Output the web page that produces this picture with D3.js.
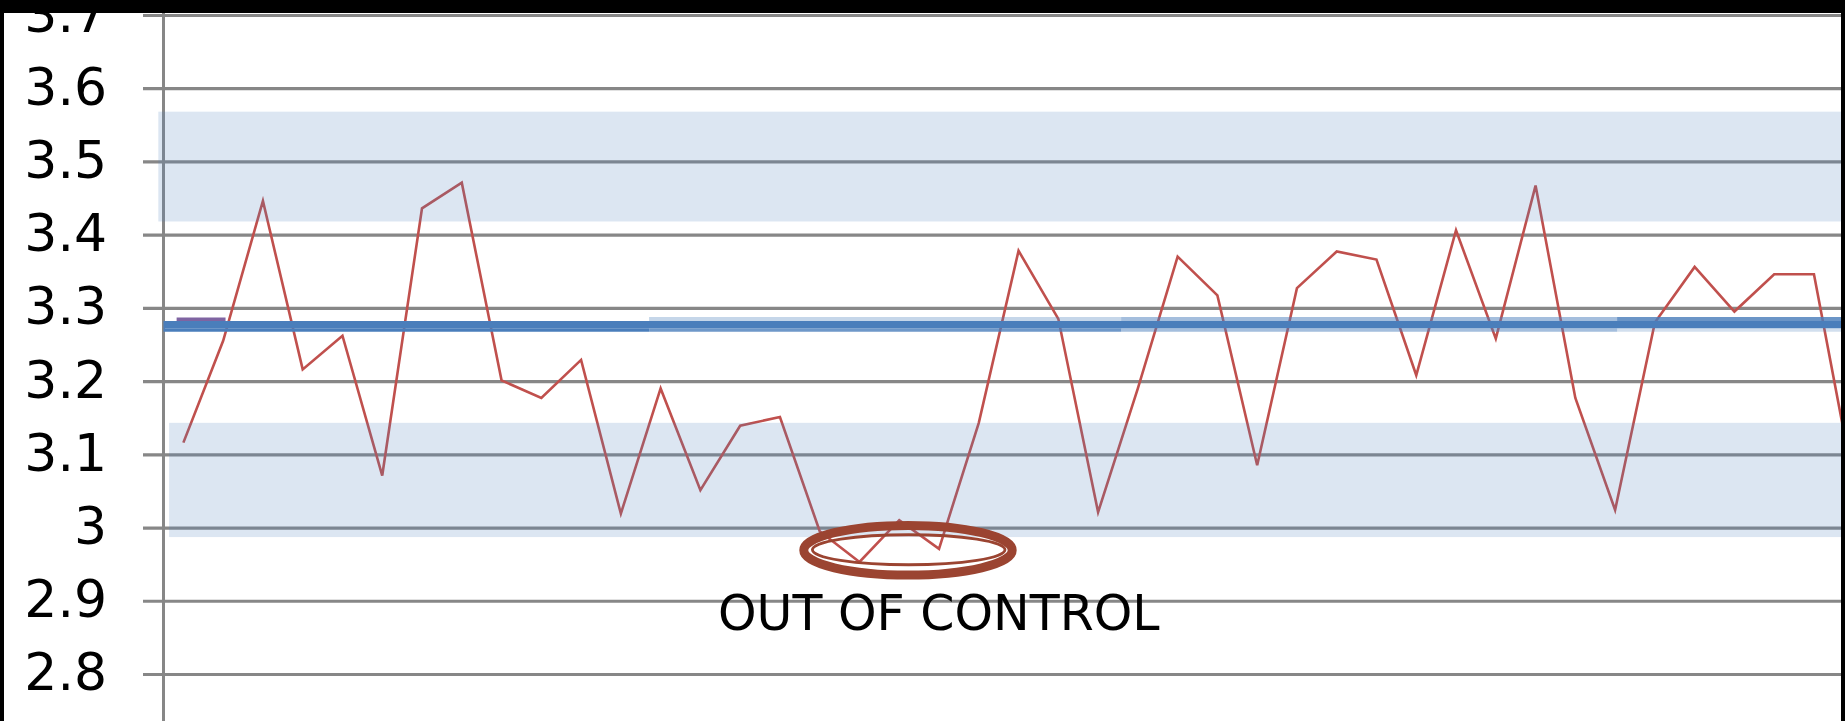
<!DOCTYPE html>
<html>
<head>
<meta charset="utf-8">
<script src="https://cdn.jsdelivr.net/npm/d3@7"></script>
<style>
  html, body { margin: 0; padding: 0; background: #000; overflow: hidden; }
  svg { display: block; }
</style>
</head>
<body>
<svg id="chart" width="1845" height="721"></svg>
<script>
// ---- data -------------------------------------------------------------
// subgroup number along the category axis
const samples = d3.range(1, 44);
// subgroup averages
const averages = [
  3.116, 3.255, 3.446, 3.216, 3.262, 3.071, 3.436, 3.471, 3.201, 3.177,
  3.229, 3.019, 3.190, 3.051, 3.139, 3.151, 2.995, 2.953, 3.010, 2.971,
  3.143, 3.378, 3.285, 3.021, 3.190, 3.370, 3.317, 3.085, 3.327, 3.377,
  3.366, 3.208, 3.406, 3.258, 3.467, 3.177, 3.024, 3.280, 3.356, 3.295,
  3.346, 3.346, 3.060
];
const yTickValues = [2.8, 2.9, 3.0, 3.1, 3.2, 3.3, 3.4, 3.5, 3.6, 3.7];
const yTickLabels = ["2.8", "2.9", "3", "3.1", "3.2", "3.3", "3.4", "3.5", "3.6", "3.7"];
// grand average and the runs it is drawn over (category units)
const centerValue = 3.277;
const centerRuns = [[0.5, 12.71], [12.71, 24.58], [24.58, 37.05], [37.05, 43.5]];
// shaded zones next to the control limits
const upperZone = [3.418, 3.568];
const lowerZone = [2.987, 3.143];
const zoneStart = [0.37, 0.64];
// short reference run at the start
const startRun = [[0.83, 3.284], [2.06, 3.284]];
// annotation
const calloutText = "OUT OF CONTROL";
const calloutAt = [19.22, 2.969];

// ---- layout -----------------------------------------------------------
const W = 1845, H = 721;
const axisX = 163.5;
const step = 39.77;
const svg = d3.select("#chart");

const x = d3.scaleLinear()
  .domain([0.5, samples.length + 0.5])
  .range([axisX, axisX + samples.length * step]);
const y = d3.scaleLinear().domain([2.7, 3.7]).range([747.2, 15]);

svg.append("rect").attr("x", 0).attr("y", 0).attr("width", W).attr("height", H).attr("fill", "#fff");

// ---- value axis with full-width gridlines -------------------------------
const gridLeft = 143;
const yAxis = d3.axisLeft(y)
  .tickValues(yTickValues)
  .tickFormat((d, i) => yTickLabels[i])
  .tickSizeInner(-(W - gridLeft))
  .tickSizeOuter(0)
  .tickPadding(36);

const gAxis = svg.append("g").attr("transform", `translate(${gridLeft},0)`).call(yAxis);
gAxis.select(".domain").remove();
gAxis.selectAll(".tick line").attr("stroke", "#878787").attr("stroke-width", 3.2);
gAxis.selectAll(".tick text")
  .attr("fill", "#000")
  .attr("dy", null)
  .attr("y", 16)
  .style("font-family", "'DejaVu Sans', Verdana, sans-serif")
  .style("font-size", "52px");

// vertical axis line
svg.append("line")
  .attr("x1", x(0.5)).attr("x2", x(0.5))
  .attr("y1", y(3.7) - 2).attr("y2", H)
  .attr("stroke", "#878787").attr("stroke-width", 3);

// ---- averages -----------------------------------------------------------
const line = d3.line().x((d, i) => x(samples[i])).y(d => y(d));
svg.append("path")
  .datum(averages)
  .attr("d", line)
  .attr("fill", "none")
  .attr("stroke", "#c0504d")
  .attr("stroke-width", 2.6)
  .attr("stroke-linejoin", "miter");

// short reference run
svg.append("path")
  .datum(startRun)
  .attr("d", d3.line().x(d => x(d[0])).y(d => y(d[1])))
  .attr("stroke", "#7f64a2")
  .attr("stroke-width", 4)
  .attr("fill", "none");

// ---- grand average line -------------------------------------------------
const blue = "#4a7ebb";
const yc = y(centerValue);
svg.append("line")
  .attr("x1", x(0.5)).attr("x2", W)
  .attr("y1", yc).attr("y2", yc)
  .attr("stroke", blue).attr("stroke-width", 7.3);

const topEdge = [0, 0.32, 0.5, 0.82];
const bottomEdge = [1, 0.8, 0.5, 0.25];
const runs = svg.append("g");
centerRuns.forEach((r, i) => {
  runs.append("line")
    .attr("x1", x(r[0])).attr("x2", x(r[1]))
    .attr("y1", yc - 5.65).attr("y2", yc - 5.65)
    .attr("stroke", blue).attr("stroke-width", 4)
    .attr("stroke-opacity", topEdge[i]);
  runs.append("line")
    .attr("x1", x(r[0])).attr("x2", x(r[1]))
    .attr("y1", yc + 5.35).attr("y2", yc + 5.35)
    .attr("stroke", blue).attr("stroke-width", 3.4)
    .attr("stroke-opacity", bottomEdge[i]);
});

// ---- shaded zones (drawn over the lines, translucent) -------------------
const zoneFill = "rgba(79,129,189,0.2)";
[upperZone, lowerZone].forEach((z, i) => {
  svg.append("rect")
    .attr("x", x(zoneStart[i]))
    .attr("y", y(z[1]))
    .attr("width", W - x(zoneStart[i]))
    .attr("height", y(z[0]) - y(z[1]))
    .attr("fill", zoneFill);
});

// ---- callout ------------------------------------------------------------
const cx = x(calloutAt[0]), cy = y(calloutAt[1]);
const brown = "#9b4431";
svg.append("ellipse")
  .attr("cx", cx).attr("cy", cy)
  .attr("rx", 104.2).attr("ry", 24.8)
  .attr("fill", "none").attr("stroke", brown).attr("stroke-width", 9);
svg.append("ellipse")
  .attr("cx", cx + 0.7).attr("cy", cy - 0.5)
  .attr("rx", 96.3).attr("ry", 15)
  .attr("fill", "none").attr("stroke", brown).attr("stroke-width", 2.8);

svg.append("text")
  .attr("x", 718).attr("y", 630)
  .attr("fill", "#000")
  .style("font-family", "'DejaVu Sans', Verdana, sans-serif")
  .style("font-size", "49px")
  .text(calloutText);

// ---- frame --------------------------------------------------------------
svg.append("rect").attr("x", 0).attr("y", 0).attr("width", W).attr("height", 13).attr("fill", "#000");
svg.append("rect").attr("x", 0).attr("y", 0).attr("width", 4).attr("height", H).attr("fill", "#000");
svg.append("rect").attr("x", 1841).attr("y", 0).attr("width", 4).attr("height", H).attr("fill", "#000");
</script>
</body>
</html>
